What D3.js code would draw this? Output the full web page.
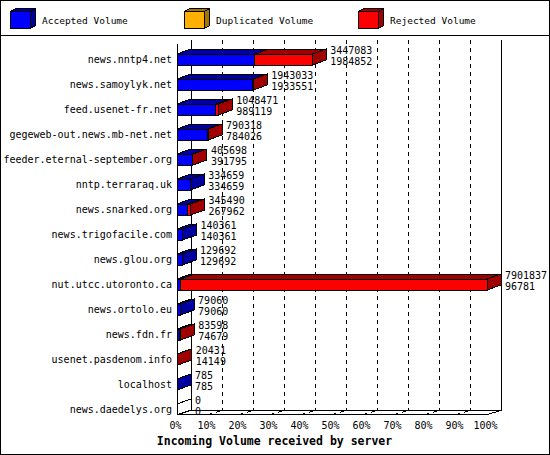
<!DOCTYPE html>
<html>
<head>
<meta charset="utf-8">
<script src="https://cdn.jsdelivr.net/npm/d3@7/dist/d3.min.js"></script>
<style>
  html, body { margin: 0; padding: 0; background: #fff; }
  svg { display: block; }
  text { font-family: "DejaVu Sans Mono", "Liberation Mono", monospace; fill: #000; }
</style>
</head>
<body>
<svg id="chart" width="550" height="455"></svg>
<script>
// ---- data ----
const categories = [
  "news.nntp4.net", "news.samoylyk.net", "feed.usenet-fr.net",
  "gegeweb-out.news.mb-net.net", "feeder.eternal-september.org",
  "nntp.terraraq.uk", "news.snarked.org", "news.trigofacile.com",
  "news.glou.org", "nut.utcc.utoronto.ca", "news.ortolo.eu",
  "news.fdn.fr", "usenet.pasdenom.info", "localhost", "news.daedelys.org"
];
const totalVolume = [3447083, 1943033, 1048471, 790318, 405698, 334659, 345490, 140361, 129692, 7901837, 79060, 83598, 20431, 785, 0];
const acceptedVolume = [1984852, 1933551, 989119, 784026, 391795, 334659, 267962, 140361, 129692, 96781, 79060, 74679, 14149, 785, 0];
const duplicatedVolume = [0, 0, 0, 0, 0, 0, 0, 0, 0, 0, 0, 0, 0, 0, 0];
const rejectedVolume = [1462231, 9482, 59352, 6292, 13903, 0, 77528, 0, 0, 7805056, 0, 8919, 6282, 0, 0];
const seriesNames = ["Accepted Volume", "Duplicated Volume", "Rejected Volume"];
const percentTicks = [0, 10, 20, 30, 40, 50, 60, 70, 80, 90, 100];
const axisTitle = "Incoming Volume received by server";

// ---- styles ----
const frontColors = ["#0000ff", "#ffb000", "#ff0000"];
const darkColors = ["#0000a0", "#a87400", "#a00000"];
const seriesValues = [acceptedVolume, duplicatedVolume, rejectedVolume];

const svg = d3.select("#chart");
const W = 550, H = 455;

// frame
svg.append("rect").attr("x", 0.5).attr("y", 0.5).attr("width", W - 1).attr("height", H - 1)
  .attr("fill", "#fff").attr("stroke", "#000").attr("shape-rendering", "crispEdges");
svg.append("line").attr("x1", 0).attr("x2", W).attr("y1", 35.5).attr("y2", 35.5)
  .attr("stroke", "#000").attr("shape-rendering", "crispEdges");

// legend
const legendX = [10, 184, 358];
seriesNames.forEach((name, i) => {
  const g = svg.append("g").attr("transform", `translate(${legendX[i]},0)`);
  const x0 = 0.5, y0 = 11.5, w = 20, h = 17, ddx = 5, ddy = 3;
  g.append("path").attr("d", `M${x0},${y0}L${x0 + ddx},${y0 - ddy}L${x0 + w + ddx},${y0 - ddy}L${x0 + w},${y0}Z`)
    .attr("fill", darkColors[i]).attr("stroke", "#000").attr("shape-rendering", "crispEdges");
  g.append("path").attr("d", `M${x0 + w},${y0}L${x0 + w + ddx},${y0 - ddy}L${x0 + w + ddx},${y0 + h - ddy}L${x0 + w},${y0 + h}Z`)
    .attr("fill", darkColors[i]).attr("stroke", "#000").attr("shape-rendering", "crispEdges");
  g.append("rect").attr("x", x0).attr("y", y0).attr("width", w).attr("height", h)
    .attr("fill", frontColors[i]).attr("stroke", "#000").attr("shape-rendering", "crispEdges");
  g.append("text").attr("x", 32).attr("y", 24).attr("font-size", "9.5px").text(name);
});

// geometry
const fx0 = 177, fx1 = 487;         // front axis extent
const wdx = 14, wdy = 4;            // wall depth
const bdx = 14, bdy = 5;            // bar depth
const floorY = 414, topY = 40;
const barH = 11;

const x = d3.scaleLinear().domain([0, d3.max(totalVolume)]).range([fx0, fx1]);
const xPct = d3.scaleLinear().domain([0, 100]).range([fx0, fx1]);
const y = d3.scalePoint().domain(categories).range([59.5, 409.5]);

// grid on back wall + floor
const grid = svg.append("g");
percentTicks.filter(p => p > 0 && p < 100).forEach(p => {
  const xf = Math.round(xPct(p)) + 0.5;
  grid.append("line").attr("x1", xf + wdx).attr("x2", xf + wdx).attr("y1", topY).attr("y2", floorY - wdy)
    .attr("stroke", "#000").attr("stroke-dasharray", "4,4").attr("shape-rendering", "crispEdges");
  grid.append("line").attr("x1", xf).attr("y1", floorY + 0.5).attr("x2", xf + wdx).attr("y2", floorY - wdy + 0.5)
    .attr("stroke", "#000").attr("stroke-dasharray", "4,4").attr("shape-rendering", "crispEdges");
});
// walls
const wall = svg.append("g").attr("stroke", "#000").attr("fill", "none").attr("shape-rendering", "crispEdges");
wall.append("line").attr("x1", fx0 + wdx + 0.5).attr("x2", fx0 + wdx + 0.5).attr("y1", topY).attr("y2", floorY - wdy);
wall.append("line").attr("x1", fx1 + wdx + 0.5).attr("x2", fx1 + wdx + 0.5).attr("y1", topY).attr("y2", floorY - wdy);
wall.append("line").attr("x1", fx0 + 0.5).attr("x2", fx0 + 0.5).attr("y1", topY + wdy).attr("y2", floorY);
wall.append("line").attr("x1", fx0 + wdx).attr("x2", fx1 + wdx + 1).attr("y1", floorY - wdy + 0.5).attr("y2", floorY - wdy + 0.5);
wall.append("line").attr("x1", fx0).attr("x2", fx1).attr("y1", floorY + 0.5).attr("y2", floorY + 0.5);
wall.append("line").attr("x1", fx1).attr("y1", floorY + 0.5).attr("x2", fx1 + wdx).attr("y2", floorY - wdy + 0.5);
wall.append("line").attr("x1", fx0).attr("y1", floorY + 0.5).attr("x2", fx0 + wdx).attr("y2", floorY - wdy + 0.5);

// bars
const bars = svg.append("g");
categories.forEach((cat, r) => {
  const g = bars.append("g");
  const yt = y(cat) - barH / 2;
  let acc = 0;
  let lastIdx = -1;
  seriesValues.forEach((vals, s) => {
    const v = vals[r];
    if (v <= 0) return;
    const xa = x(acc), xb = x(acc + v);
    acc += v;
    lastIdx = s;
    g.append("path")
      .attr("d", `M${xa},${yt}L${xa + bdx},${yt - bdy}L${xb + bdx},${yt - bdy}L${xb},${yt}Z`)
      .attr("fill", darkColors[s]).attr("stroke", "#000").attr("shape-rendering", "crispEdges");
    g.append("rect").attr("x", xa).attr("y", yt).attr("width", xb - xa).attr("height", barH)
      .attr("fill", frontColors[s]).attr("stroke", "#000").attr("shape-rendering", "crispEdges");
  });
  const xe = x(acc);
  g.append("path")
    .attr("d", `M${xe},${yt}L${xe + bdx},${yt - bdy}L${xe + bdx},${yt + barH - bdy}L${xe},${yt + barH}Z`)
    .attr("fill", lastIdx >= 0 ? darkColors[lastIdx] : "none")
    .attr("stroke", "#000").attr("shape-rendering", "crispEdges");

  // value labels
  const lx = x(totalVolume[r]) + bdx + 4;
  g.append("text").attr("x", lx).attr("y", y(cat) - 5.5).attr("font-size", "10px").text(totalVolume[r]);
  g.append("text").attr("x", lx).attr("y", y(cat) + 5.5).attr("font-size", "10px").text(acceptedVolume[r]);
});

// category labels
svg.append("g").selectAll("text").data(categories).join("text")
  .attr("x", 172).attr("y", d => y(d) + 3.5)
  .attr("text-anchor", "end").attr("font-size", "10px").text(d => d);

// x axis tick labels
const axis = d3.axisBottom(xPct).tickValues(percentTicks).tickFormat(d => d + "%").tickSize(0).tickPadding(0);
const ax = svg.append("g").attr("transform", `translate(-2,${floorY + 8})`).call(axis);
ax.select(".domain").remove();
ax.selectAll("text").attr("font-size", "10px").attr("font-family", "DejaVu Sans Mono, monospace")
  .attr("dy", "0.71em").attr("fill", "#000");

// axis title
svg.append("text").attr("x", 274.5).attr("y", 445).attr("text-anchor", "middle")
  .attr("font-size", "11.5px").attr("font-weight", "bold").text(axisTitle);
</script>
</body>
</html>
